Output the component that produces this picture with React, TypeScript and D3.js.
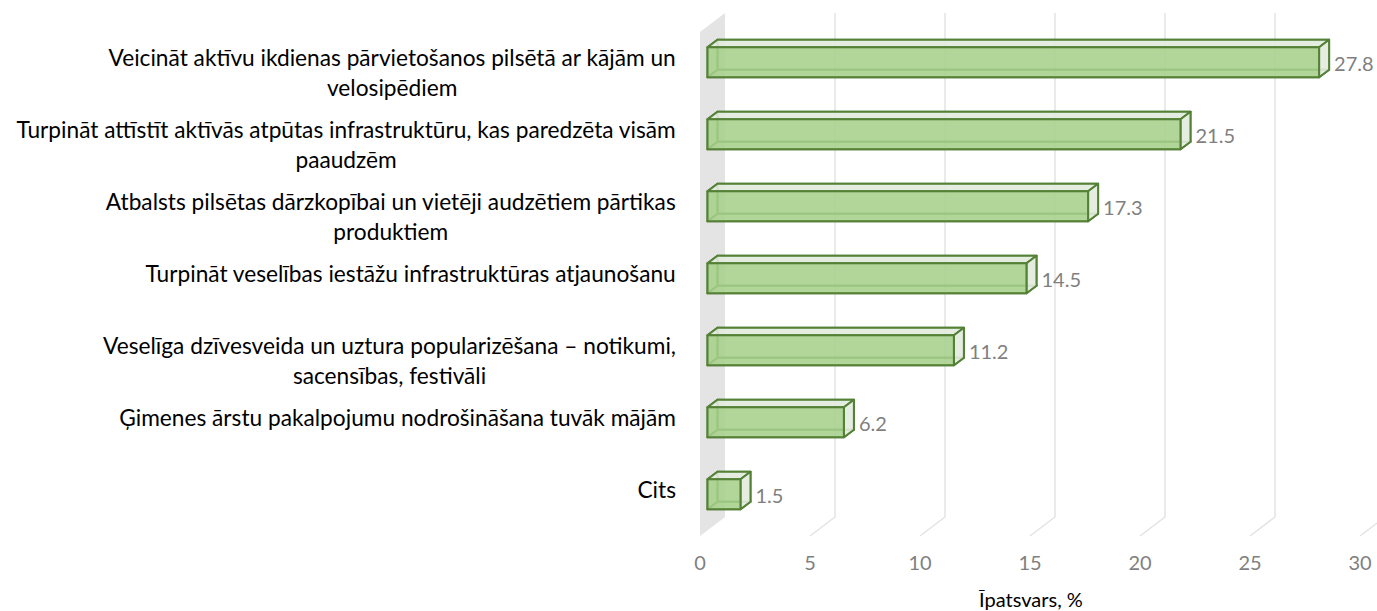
import React from "react";
import * as d3 from "d3";

const categories: string[][] = [
  ["Veicināt aktīvu ikdienas pārvietošanos pilsētā ar kājām un", "velosipēdiem"],
  ["Turpināt attīstīt aktīvās atpūtas infrastruktūru, kas paredzēta visām", "paaudzēm"],
  ["Atbalsts pilsētas dārzkopībai un vietēji audzētiem pārtikas", "produktiem"],
  ["Turpināt veselības iestāžu infrastruktūras atjaunošanu"],
  ["Veselīga dzīvesveida un uztura popularizēšana – notikumi,", "sacensības, festivāli"],
  ["Ģimenes ārstu pakalpojumu nodrošināšana tuvāk mājām"],
  ["Cits"],
];
const values = [27.8, 21.5, 17.3, 14.5, 11.2, 6.2, 1.5];
const ticks = [0, 5, 10, 15, 20, 25, 30];
const axisTitle = "Īpatsvars, %";

const W = 1377;
const H = 611;
const DX = 25;
const DY = 19;
const FONT = "Lato, 'Open Sans', sans-serif";
const LABEL_SIZE = 22.7;

// measure text width so wrapped lines can be centred under the widest line
let ctx: CanvasRenderingContext2D | null = null;
const textWidth = (s: string) => {
  if (!ctx) ctx = document.createElement("canvas").getContext("2d");
  if (!ctx) return s.length * LABEL_SIZE * 0.45;
  ctx.font = `${LABEL_SIZE}px Lato`;
  return ctx.measureText(s).width;
};

export default function App() {
  const x = d3.scaleLinear().domain([0, 30]).range([700, 1360]);
  const y = d3
    .scaleBand<number>()
    .domain(d3.range(values.length))
    .range([32, 536]);
  const barH = 30;
  const f = 0.3;
  const b = 0.7;
  const top = y.range()[0];
  const bottom = y.range()[1];
  const labelRight = 676;

  const pt = (px: number, py: number, d: number): [number, number] => [px + d * DX, py - d * DY];
  const poly = (pts: [number, number][]) => pts.map((p) => p.join(",")).join(" ");

  const stroke = "#538135";
  const sw = 2;

  return (
    <svg width={W} height={H} style={{ position: "absolute", left: 0, top: 0 }} fontFamily={FONT}>
      {/* side wall */}
      <polygon
        points={poly([pt(x(0), top, 0), pt(x(0), top, 1), pt(x(0), bottom, 1), pt(x(0), bottom, 0)])}
        fill="#e4e4e4"
      />
      {/* gridlines */}
      {ticks
        .filter((t) => t > 0)
        .map((t) => {
          const a = pt(x(t), bottom, 0);
          const c = pt(x(t), bottom, 1);
          const d = pt(x(t), top, 1);
          return (
            <polyline
              key={t}
              points={poly([a, c, d])}
              fill="none"
              stroke="#e3e3e3"
              strokeWidth={1.5}
            />
          );
        })}
      {/* bars */}
      {values.map((v, i) => {
        const yc = (y(i) as number) + y.bandwidth() / 2;
        const y0 = yc - barH / 2;
        const y1 = yc + barH / 2;
        const x0 = x(0);
        const x1 = x(v);
        const ftl = pt(x0, y0, f), ftr = pt(x1, y0, f), fbr = pt(x1, y1, f), fbl = pt(x0, y1, f);
        const btl = pt(x0, y0, b), btr = pt(x1, y0, b), bbr = pt(x1, y1, b), bbl = pt(x0, y1, b);
        return (
          <g key={i} stroke={stroke} strokeWidth={sw} strokeLinejoin="round">
            <polygon points={poly([btl, btr, bbr, bbl])} fill="#a9d18e" fillOpacity={0.35} />
            <polygon points={poly([ftl, btl, bbl, fbl])} fill="#a9d18e" fillOpacity={0.35} />
            <polygon points={poly([fbl, fbr, bbr, bbl])} fill="#a9d18e" fillOpacity={0.35} />
            <polygon points={poly([ftl, ftr, btr, btl])} fill="#e6ebe1" fillOpacity={0.9} />
            <polygon points={poly([ftr, btr, bbr, fbr])} fill="#e6ebe1" fillOpacity={0.9} />
            <polygon points={poly([ftl, ftr, fbr, fbl])} fill="#a9d18e" fillOpacity={0.85} />
            <text
              x={btr[0] + 5}
              y={yc - f * DY + 2}
              dy="0.35em"
              fill="#7f7f7f"
              stroke="none"
              fontSize={20}
            >
              {v.toFixed(1)}
            </text>
          </g>
        );
      })}
      {/* category labels */}
      {categories.map((lines, i) => {
        const yc = (y(i) as number) + y.bandwidth() / 2 - f * DY - 4;
        const maxW = d3.max(lines, textWidth) ?? 0;
        const cx = labelRight - maxW / 2;
        return (
          <text key={i} y={yc} textAnchor="middle" fontSize={LABEL_SIZE} fill="#000">
            {lines.map((l, j) => (
              <tspan key={j} x={lines.length > 1 ? cx : labelRight - textWidth(l) / 2} y={yc + j * 30} dy="0.35em">
                {l}
              </tspan>
            ))}
          </text>
        );
      })}
      {/* tick labels */}
      {ticks.map((t) => (
        <text key={t} x={x(t)} y={563} dy="0.35em" textAnchor="middle" fontSize={20} fill="#7f7f7f">
          {t}
        </text>
      ))}
      <text x={1031} y={600} dy="0.35em" textAnchor="middle" fontSize={20} fill="#000">
        {axisTitle}
      </text>
    </svg>
  );
}
